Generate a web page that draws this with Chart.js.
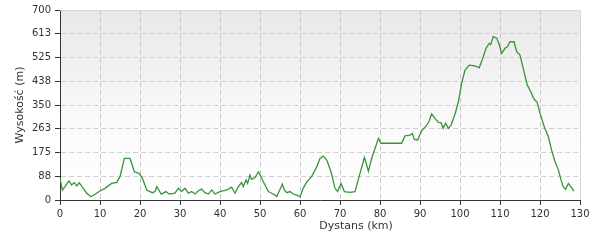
<!DOCTYPE html>
<html>
<head>
<meta charset="utf-8">
<script src="https://cdn.jsdelivr.net/npm/chart.js@4"></script>
<style>
  html, body { margin: 0; padding: 0; background: #fff; }
  #wrap { width: 600px; height: 240px; }
</style>
</head>
<body>
<div id="wrap"><canvas id="chart" width="600" height="240"></canvas></div>
<script>
// distance (km) and elevation (m)
const distKm = [0,0.6,1.25,2.25,2.9,3.6,4.2,4.8,5.8,6.7,7.75,8.75,10,11.25,12.9,14.2,15,16.1,17.5,18.6,19.75,20.6,21.7,22.5,23.1,23.75,24.2,25.3,26.5,27.3,28.75,29.6,30.4,31.25,32.1,32.9,33.75,34.6,35.4,36.25,37.1,37.9,38.75,40,41.7,42.9,43.75,44.6,45.4,45.8,46.5,46.9,47.5,47.9,48.75,49.6,50.4,51.25,52.1,52.9,53.75,54.2,54.75,55.6,56.1,56.7,57.5,58.3,59.2,60,60.8,61.7,62.9,64.2,65,65.8,66.7,67.75,68.75,69.4,70.25,71.1,72.5,73.75,75,76.1,77.1,77.9,78.9,79.6,80.25,85.4,86.25,87.5,88.1,88.6,89.4,90.4,91.7,92.25,92.9,93.75,94.6,95.25,95.8,96.4,97.1,97.75,98.75,99.6,100.4,101.25,102.3,103.3,104.2,104.8,105.7,106.5,107.3,107.7,108.3,109.2,109.8,110.4,111.25,111.9,112.5,113.5,114.2,115,115.8,116.8,117.7,118.5,119.3,120,121.1,122.1,122.9,123.75,124.6,125.25,125.8,126.4,127.1,127.7,128.5];
const elevM  = [80,37,49,70,55,64,52,64,43,25,12,21,33,43,61,65,86,153,153,104,98,80,37,31,27,31,49,22,31,22,25,43,31,43,25,31,22,34,40,27,22,37,22,31,37,47,25,49,64,49,74,61,92,76,83,104,80,55,31,25,18,12,31,58,37,27,31,22,18,12,43,67,86,123,153,162,147,104,43,31,61,31,28,31,98,157,106,153,196,227,209,209,236,239,245,223,221,255,276,289,317,301,286,285,264,283,264,276,316,362,430,479,497,495,491,487,522,559,577,573,602,596,573,540,559,565,583,583,546,534,485,424,399,372,360,320,268,233,184,141,111,74,49,39,61,49,33];

const xTickLabels = ['0','10','20','30','40','50','60','70','80','90','100','110','120','130'];
const yTickLabels = ['0','88','175','263','350','438','525','613','700'];
const xTitle = 'Dystans (km)';
const yTitle = 'Wysokość (m)';

const FONT = 'DejaVu Sans, Verdana, sans-serif';

const bgPlugin = {
  id: 'bg',
  beforeDraw(c) {
    const { ctx, chartArea: a } = c;
    const g = ctx.createLinearGradient(0, a.top, 0, a.bottom);
    g.addColorStop(0, '#e8e8e8');
    g.addColorStop(0.6, '#fafafa');
    g.addColorStop(1, '#ffffff');
    ctx.save();
    ctx.fillStyle = g;
    ctx.fillRect(a.left, a.top, a.right - a.left, a.bottom - a.top);
    ctx.restore();
  },
  beforeDatasetsDraw(c) {
    const { ctx, chartArea: a } = c;
    ctx.save();
    ctx.strokeStyle = '#d6d6d6';
    ctx.lineWidth = 1;
    ctx.beginPath();
    ctx.moveTo(a.left, a.top + 0.5);
    ctx.lineTo(a.right + 0.5, a.top + 0.5);
    ctx.lineTo(a.right + 0.5, a.bottom);
    ctx.stroke();
    ctx.restore();
  },
  afterDraw(c) {
    // x title sits right of centre in the original
    const { ctx, chartArea: a } = c;
    ctx.save();
    ctx.fillStyle = '#333';
    ctx.font = '11px ' + FONT;
    ctx.textAlign = 'center';
    ctx.textBaseline = 'middle';
    ctx.fillText(xTitle, (a.left + a.right) / 2 + 36, a.bottom + 26);
    ctx.restore();
  }
};

const points = distKm.map((d, i) => ({ x: d, y: elevM[i] }));

new Chart(document.getElementById('chart'), {
  type: 'line',
  data: {
    datasets: [{
      data: points,
      borderColor: '#399439',
      borderWidth: 1.3,
      pointRadius: 0,
      tension: 0,
      fill: false
    }]
  },
  options: {
    responsive: false,
    animation: false,
    layout: { padding: { top: 10, right: 20, bottom: 0, left: 0 } },
    plugins: { legend: { display: false }, tooltip: { enabled: false } },
    scales: {
      x: {
        type: 'linear',
        min: 0, max: 130,
        ticks: {
          stepSize: 10,
          color: '#333',
          font: { family: FONT, size: 10 },
          padding: 3,
          maxRotation: 0,
          callback: (v, i) => xTickLabels[i]
        },
        grid: {
          color: (ctx) => (ctx.index === 0 || ctx.index === xTickLabels.length - 1) ? 'rgba(0,0,0,0)' : '#c8c8c8',
          tickColor: '#333',
          tickLength: 5,
          tickBorderDash: []
        },
        border: { color: '#333', width: 1, dash: [5, 3] },
        title: { display: false },
        afterFit: (s) => { s.height = 40; }
      },
      y: {
        min: 0, max: 700,
        ticks: {
          stepSize: 87.5,
          color: '#333',
          font: { family: FONT, size: 10 },
          padding: 4,
          callback: (v, i) => yTickLabels[i]
        },
        grid: {
          color: (ctx) => (ctx.index === 0 || ctx.index === yTickLabels.length - 1) ? 'rgba(0,0,0,0)' : '#d0d0d0',
          tickColor: '#333',
          tickLength: 5,
          tickBorderDash: []
        },
        border: { color: '#333', width: 1, dash: [5, 3] },
        title: {
          display: true, text: yTitle, color: '#333',
          font: { family: FONT, size: 11 },
          padding: { top: 14, bottom: 0 }
        },
        afterFit: (s) => { s.width = 60; }
      }
    }
  },
  plugins: [bgPlugin]
});
</script>
</body>
</html>
